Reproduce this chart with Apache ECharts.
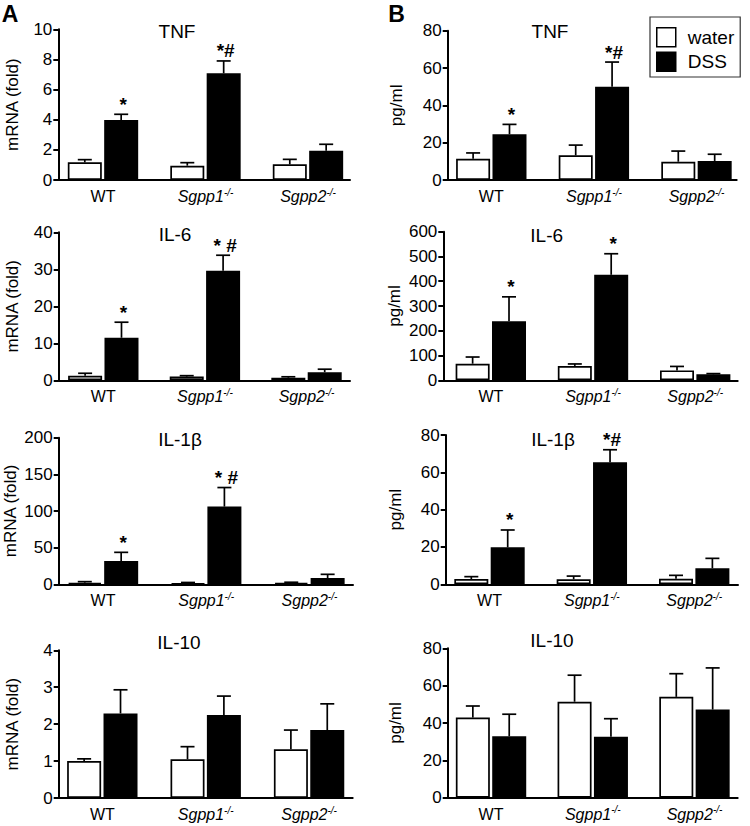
<!DOCTYPE html>
<html>
<head>
<meta charset="utf-8">
<script src="https://cdn.jsdelivr.net/npm/echarts@6/dist/echarts.min.js"></script>
<style>
html,body{margin:0;padding:0;background:#fff;}
#chart{width:750px;height:826px;}
</style>
</head>
<body>
<div id="chart"></div>
<script>
// ---------------- DATA ----------------
const categories = ['WT', 'Sgpp1', 'Sgpp2'];
const categoryLabels = ['{n|WT}', '{i|Sgpp1}{s|-/-}', '{i|Sgpp2}{s|-/-}'];
const seriesNames = ['water', 'DSS'];

const panelTitles = ['TNF', 'TNF', 'IL-6', 'IL-6', 'IL-1β', 'IL-1β', 'IL-10', 'IL-10'];
const yAxisNames = ['mRNA (fold)', 'pg/ml', 'mRNA (fold)', 'pg/ml', 'mRNA (fold)', 'pg/ml', 'mRNA (fold)', 'pg/ml'];
const yMax = [10, 80, 40, 600, 200, 80, 4, 80];
const yStep = [2, 20, 10, 100, 50, 20, 1, 20];

const tnfMrnaWater = [1.17, 0.95, 1.04];
const tnfMrnaWaterErr = [0.18, 0.20, 0.33];
const tnfMrnaDss = [3.98, 7.08, 1.94];
const tnfMrnaDssErr = [0.38, 0.82, 0.43];
const tnfMrnaSig = ['*', '*#', ''];

const tnfProtWater = [11.4, 13.2, 9.8];
const tnfProtWaterErr = [3.1, 5.5, 5.7];
const tnfProtDss = [24.5, 50.0, 10.2];
const tnfProtDssErr = [5.3, 13.2, 3.6];
const tnfProtSig = ['*', '*#', ''];

const il6MrnaWater = [1.25, 1.0, 0.7];
const il6MrnaWaterErr = [0.65, 0.25, 0.25];
const il6MrnaDss = [11.5, 29.6, 2.2];
const il6MrnaDssErr = [4.2, 4.2, 0.8];
const il6MrnaSig = ['*', '* #', ''];

const il6ProtWater = [67, 58, 40];
const il6ProtWaterErr = [27, 8, 16];
const il6ProtDss = [238, 426, 24];
const il6ProtDssErr = [99, 85, 3];
const il6ProtSig = ['*', '*', ''];

const il1bMrnaWater = [2.2, 1.4, 2.2];
const il1bMrnaWaterErr = [1.4, 1.1, 0.6];
const il1bMrnaDss = [31.8, 106, 8.6];
const il1bMrnaDssErr = [11.8, 26, 5.0];
const il1bMrnaSig = ['*', '* #', ''];

const il1bProtWater = [2.8, 2.7, 3.0];
const il1bProtWaterErr = [1.3, 1.7, 1.8];
const il1bProtDss = [19.8, 65.4, 8.6];
const il1bProtDssErr = [9.3, 6.7, 5.3];
const il1bProtSig = ['*', '*#', ''];

const il10MrnaWater = [1.0, 1.05, 1.32];
const il10MrnaWaterErr = [0.06, 0.34, 0.52];
const il10MrnaDss = [2.29, 2.25, 1.84];
const il10MrnaDssErr = [0.64, 0.51, 0.71];
const il10MrnaSig = ['', '', ''];

const il10ProtWater = [42.9, 51.4, 54.0];
const il10ProtWaterErr = [6.2, 14.2, 12.4];
const il10ProtDss = [32.9, 32.7, 47.2];
const il10ProtDssErr = [11.8, 9.6, 22.3];
const il10ProtSig = ['', '', ''];

// panels in order: A1, B1, A2, B2, A3, B3, A4, B4
const panelData = [
  [tnfMrnaWater, tnfMrnaWaterErr, tnfMrnaDss, tnfMrnaDssErr, tnfMrnaSig],
  [tnfProtWater, tnfProtWaterErr, tnfProtDss, tnfProtDssErr, tnfProtSig],
  [il6MrnaWater, il6MrnaWaterErr, il6MrnaDss, il6MrnaDssErr, il6MrnaSig],
  [il6ProtWater, il6ProtWaterErr, il6ProtDss, il6ProtDssErr, il6ProtSig],
  [il1bMrnaWater, il1bMrnaWaterErr, il1bMrnaDss, il1bMrnaDssErr, il1bMrnaSig],
  [il1bProtWater, il1bProtWaterErr, il1bProtDss, il1bProtDssErr, il1bProtSig],
  [il10MrnaWater, il10MrnaWaterErr, il10MrnaDss, il10MrnaDssErr, il10MrnaSig],
  [il10ProtWater, il10ProtWaterErr, il10ProtDss, il10ProtDssErr, il10ProtSig]
];

// ---------------- LAYOUT (pixels) ----------------
// left, top, right, bottom, xMin, xMax, nameGap, titleX, titleY
const layout = [
  [58.3, 29.3, 350, 180, -0.436, 2.41, 37, 177, 31],
  [447.7, 30.7, 736.7, 180, -0.425, 2.392, 43, 550, 31],
  [58.7, 232.3, 350, 380.3, -0.439, 2.428, 38, 175, 234.3],
  [443.3, 231.7, 737.7, 380.3, -0.465, 2.416, 40, 546.7, 235],
  [58.7, 437.7, 353, 584.3, -0.429, 2.422, 40, 180, 439.5],
  [445.7, 435, 738, 584.3, -0.428, 2.428, 42, 553, 439],
  [58.7, 650.3, 352.7, 798, -0.422, 2.422, 38, 179, 642.8],
  [447.7, 648.3, 737.7, 797.7, -0.426, 2.425, 44, 552, 640.5]
];

const FONT = 'Liberation Sans, Arial, Helvetica, sans-serif';
const BAR_W = 34;
const BAR_GAP = 0.07;
const OFFSET = BAR_W * (1 + BAR_GAP) / 2;
const CAP = 14;

const grids = [], xAxes = [], yAxes = [], series = [], graphics = [];

function errRenderer(side, sigArr) {
  return function (params, api) {
    const x = api.value(0), v = api.value(1), e = api.value(2);
    const pb = api.coord([x, v]);
    const pt = api.coord([x, v + e]);
    const cx = pb[0] + side * OFFSET;
    const children = [
      { type: 'line', shape: { x1: cx, y1: pb[1], x2: cx, y2: pt[1] }, style: { stroke: '#000', lineWidth: 1.7 } },
      { type: 'line', shape: { x1: cx - CAP / 2, y1: pt[1], x2: cx + CAP / 2, y2: pt[1] }, style: { stroke: '#000', lineWidth: 1.7 } }
    ];
    const sig = sigArr ? sigArr[params.dataIndex] : '';
    if (sig) {
      children.push({
        type: 'text',
        style: {
          text: sig, x: cx + 2, y: pt[1] - 10,
          align: 'center', verticalAlign: 'middle',
          textAlign: 'center', textVerticalAlign: 'middle',
          fontSize: 19, fontFamily: FONT, fontWeight: 'bold', fill: '#000'
        }
      });
    }
    return { type: 'group', children: children };
  };
}

layout.forEach(function (L, i) {
  const [left, top, right, bottom, xMin, xMax, nameGap, tx, ty] = L;
  grids.push({ left: left, top: top, width: right - left, height: bottom - top, outerBoundsMode: 'none', containLabel: false });
  xAxes.push({
    type: 'value', gridIndex: i, min: xMin, max: xMax,
    axisLine: { show: true, onZero: false, lineStyle: { color: '#000', width: 2 } },
    axisTick: { show: false },
    splitLine: { show: false },
    axisLabel: {
      customValues: [0, 1, 2],
      margin: 7,
      formatter: function (v) { return categoryLabels[Math.round(v)]; },
      rich: {
        n: { fontSize: 16, fontFamily: FONT, color: '#000', lineHeight: 19 },
        i: { fontSize: 16, fontFamily: FONT, color: '#000', fontStyle: 'italic', lineHeight: 19 },
        s: { fontSize: 10, fontFamily: FONT, color: '#000', fontStyle: 'italic', verticalAlign: 'top', lineHeight: 13 }
      }
    }
  });
  yAxes.push({
    type: 'value', gridIndex: i, min: 0, max: yMax[i], interval: yStep[i],
    name: yAxisNames[i], nameLocation: 'middle', nameGap: nameGap, nameRotate: 90,
    nameTextStyle: { fontSize: 17, fontFamily: FONT, color: '#000' },
    axisLine: { show: true, onZero: false, lineStyle: { color: '#000', width: 2 } },
    axisTick: { show: true, length: 5, lineStyle: { color: '#000', width: 2 } },
    splitLine: { show: false },
    axisLabel: { fontSize: 17, fontFamily: FONT, color: '#000', margin: 6 }
  });
  const d = panelData[i];
  const waterVals = d[0], waterErr = d[1], dssVals = d[2], dssErr = d[3], sig = d[4];
  series.push({
    type: 'bar', name: seriesNames[0], xAxisIndex: i, yAxisIndex: i,
    barWidth: BAR_W, barGap: (BAR_GAP * 100) + '%',
    data: categories.map(function (c, k) { return [k, waterVals[k]]; }),
    itemStyle: { color: '#fff', borderColor: '#000', borderWidth: 1.7 },
    emphasis: { disabled: true }, silent: true
  });
  series.push({
    type: 'bar', name: seriesNames[1], xAxisIndex: i, yAxisIndex: i,
    barWidth: BAR_W, barGap: (BAR_GAP * 100) + '%',
    data: categories.map(function (c, k) { return [k, dssVals[k]]; }),
    itemStyle: { color: '#000', borderColor: '#000', borderWidth: 1.7 },
    emphasis: { disabled: true }, silent: true
  });
  series.push({
    type: 'custom', xAxisIndex: i, yAxisIndex: i, z: 5, silent: true,
    encode: { x: 0, y: 1 },
    data: categories.map(function (c, k) { return [k, waterVals[k], waterErr[k]]; }),
    renderItem: errRenderer(-1, null)
  });
  series.push({
    type: 'custom', xAxisIndex: i, yAxisIndex: i, z: 5, silent: true,
    encode: { x: 0, y: 1 },
    data: categories.map(function (c, k) { return [k, dssVals[k], dssErr[k]]; }),
    renderItem: errRenderer(1, sig)
  });
  graphics.push({
    type: 'text', x: tx, y: ty,
    style: { text: panelTitles[i], align: 'center', verticalAlign: 'middle', textAlign: 'center', textVerticalAlign: 'middle',
      fontSize: 19, fontFamily: FONT, fill: '#000' }
  });
});

graphics.push({ type: 'text', x: 10, y: 13.5, style: { text: 'A', align: 'center', verticalAlign: 'middle', textAlign: 'center', textVerticalAlign: 'middle', fontSize: 23, fontWeight: 'bold', fontFamily: FONT, fill: '#000' } });
graphics.push({ type: 'text', x: 396.5, y: 13.5, style: { text: 'B', align: 'center', verticalAlign: 'middle', textAlign: 'center', textVerticalAlign: 'middle', fontSize: 23, fontWeight: 'bold', fontFamily: FONT, fill: '#000' } });

const chart = echarts.init(document.getElementById('chart'), null, { renderer: 'svg' });
chart.setOption({
  animation: false,
  backgroundColor: '#fff',
  grid: grids,
  xAxis: xAxes,
  yAxis: yAxes,
  legend: {
    orient: 'vertical', left: 650, top: 17,
    itemWidth: 19, itemHeight: 19, itemGap: 4,
    padding: [10, 6, 5, 6],
    borderColor: '#333', borderWidth: 1.2,
    selectedMode: false,
    textStyle: { fontSize: 19, fontFamily: FONT, color: '#000', padding: [0, 0, 0, 7] },
    data: [
      { name: 'water', icon: 'rect', itemStyle: { color: '#fff', borderColor: '#000', borderWidth: 1.5 } },
      { name: 'DSS', icon: 'rect', itemStyle: { color: '#000', borderColor: '#000', borderWidth: 1.5 } }
    ]
  },
  graphic: graphics,
  series: series
});
</script>
</body>
</html>
